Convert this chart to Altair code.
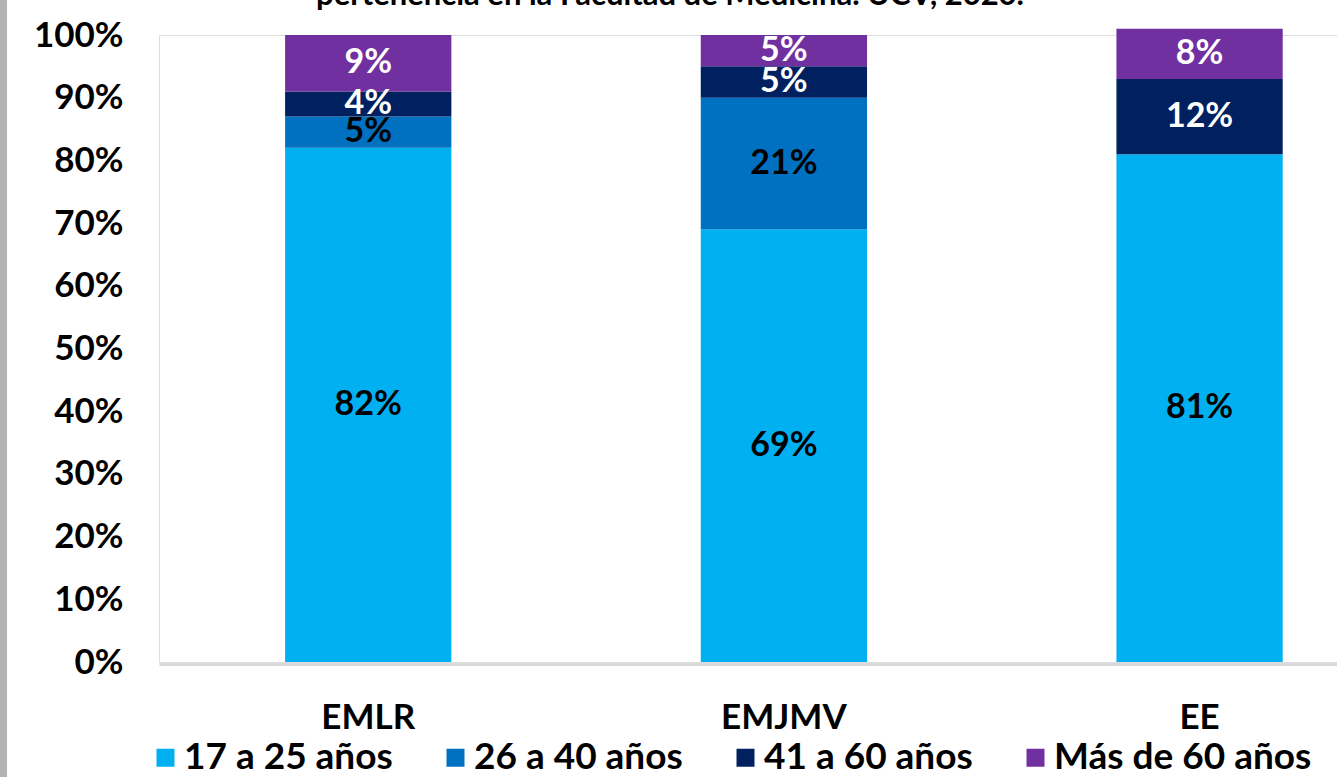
import altair as alt
import pandas as pd

# Escuelas y grupos de edad
escuelas = ["EMLR", "EMJMV", "EE"]
grupos = ["17 a 25 años", "26 a 40 años", "41 a 60 años", "Más de 60 años"]
colores = ["#00B0F0", "#0070C0", "#002060", "#7030A0"]
color_texto = ["#000000", "#000000", "#FFFFFF", "#FFFFFF"]

# Porcentaje de estudiantes por escuela (None = grupo sin estudiantes)
g17_25 = [82, 69, 81]
g26_40 = [5, 21, None]
g41_60 = [4, 5, 12]
g60_mas = [9, 5, 8]

ticks_y = [0, 10, 20, 30, 40, 50, 60, 70, 80, 90, 100]
titulo = "pertenencia en la Facultad de Medicina. UCV, 2020."

filas = []
for i, serie in enumerate([g17_25, g26_40, g41_60, g60_mas]):
    for esc, v in zip(escuelas, serie):
        if v is None:
            continue
        filas.append({"escuela": esc, "grupo": grupos[i], "orden": i,
                      "valor": v, "tcolor": color_texto[i]})
df = pd.DataFrame(filas)

FONT = "Lato"
W, H = 1178, 627
LEFT, TOP, BOTTOM = 159, 35, 115

base = alt.Chart(df).transform_stack(
    stack="valor", groupby=["escuela"], as_=["y0", "y1"],
    sort=[alt.SortField("orden", order="ascending")],
).transform_calculate(
    mid="(datum.y0 + datum.y1) / 2", etiqueta="datum.valor + '%'"
)

x_enc = alt.X(
    "escuela:N", sort=escuelas, title=None,
    scale=alt.Scale(paddingInner=0.6, paddingOuter=0.217, align=0.699),
    axis=alt.Axis(labelAngle=0, labelFont=FONT, labelFontSize=35,
                  labelFontWeight="bold", labelColor="#000000", ticks=False,
                  domainColor="#d9d9d9", domainWidth=3, offset=2,
                  labelPadding=36),
)
y_scale = alt.Scale(domain=[0, 100], nice=False)

bars = base.mark_bar().encode(
    x=x_enc,
    y=alt.Y("y0:Q", scale=y_scale, title=None,
            axis=alt.Axis(values=ticks_y, labelExpr="datum.value + '%'",
                          grid=False, domain=False, ticks=False,
                          labelFont=FONT, labelFontSize=35,
                          labelFontWeight="bold", labelColor="#000000",
                          labelPadding=36)),
    y2="y1:Q",
    color=alt.Color(
        "grupo:N", sort=grupos,
        scale=alt.Scale(domain=grupos, range=colores),
        legend=alt.Legend(
            orient="none", legendX=-12, legendY=704, direction="horizontal",
            columns=4, title=None, symbolType="square", symbolSize=324,
            symbolStrokeWidth=0, labelFont=FONT, labelFontSize=37,
            labelFontWeight="bold", labelColor="#000000", labelLimit=500,
            labelOffset=0, columnPadding=44,
        ),
    ),
)

labels = base.mark_text(font=FONT, fontSize=34, fontWeight="bold",
                        baseline="middle", align="center").encode(
    x=alt.X("escuela:N", sort=escuelas),
    y=alt.Y("mid:Q", scale=y_scale),
    text="etiqueta:N",
    color=alt.Color("tcolor:N", scale=None, legend=None),
)

one = pd.DataFrame({"k": [0]})
stripe = alt.Chart(one).mark_rect(color="#b3b3b3").encode(
    x=alt.value(-LEFT), x2=alt.value(-LEFT + 7),
    y=alt.value(-TOP), y2=alt.value(H + BOTTOM),
)
title_txt = alt.Chart(one).mark_text(
    text=titulo, font=FONT, fontSize=31, fontWeight="bold",
    align="center", baseline="alphabetic", color="#000000",
).encode(x=alt.value(670 - LEFT), y=alt.value(5 - TOP))

chart = alt.layer(stripe, bars, labels, title_txt).properties(
    width=W, height=H,
    autosize=alt.AutoSizeParams(type="none"),
    padding={"left": LEFT, "top": TOP, "right": 0, "bottom": BOTTOM},
).configure_view(stroke=None).configure(background="#ffffff")

chart.save("out.html", embed_options={"renderer": "svg", "actions": False})
